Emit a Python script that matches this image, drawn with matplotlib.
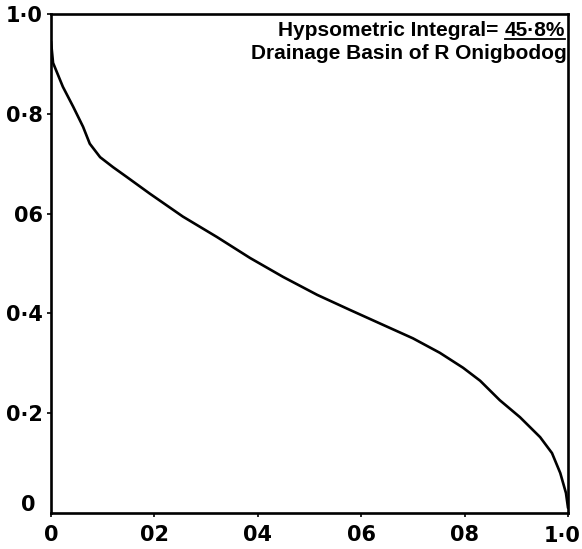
import matplotlib
matplotlib.use('Agg')
import matplotlib.pyplot as plt
import numpy as np

# hypsometric curve (relative area a/A, relative height h/H)
rel_area = [0.0, 0.004, 0.023, 0.043, 0.062, 0.075, 0.095, 0.120, 0.147, 0.191,
            0.255, 0.321, 0.385, 0.449, 0.515, 0.578, 0.640, 0.700, 0.752,
            0.797, 0.830, 0.868, 0.907, 0.946, 0.969, 0.985, 0.996, 1.0]
rel_height = [0.945, 0.902, 0.854, 0.814, 0.774, 0.740, 0.713, 0.693, 0.673, 0.640,
              0.594, 0.553, 0.511, 0.473, 0.437, 0.407, 0.378, 0.350, 0.321,
              0.291, 0.265, 0.226, 0.192, 0.152, 0.120, 0.080, 0.040, 0.010]

xticks = [0, 0.2, 0.4, 0.6, 0.8, 1.0]
xticklabels = ['0', '02', '04', '06', '08', '']
yticks = [0.2, 0.4, 0.6, 0.8, 1.0]
yticklabels = ['0·2', '0·4', '06', '0·8', '1·0']

fig = plt.figure(figsize=(5.82, 5.49), dpi=100)
ax = fig.add_axes([0.0876, 0.0656, 0.8884, 0.909])

ax.plot(rel_area, rel_height, color='black', lw=1.9,
        solid_capstyle='round', solid_joinstyle='round')

ax.set_xlim(0, 1)
ax.set_ylim(0, 1)
for s in ax.spines.values():
    s.set_linewidth(1.9)

tickfont = dict(fontsize=15, fontweight='bold')
ax.set_xticks(xticks)
ax.set_xticklabels(xticklabels, **tickfont)
ax.set_yticks(yticks)
ax.set_yticklabels(yticklabels, **tickfont)
ax.tick_params(direction='out', length=3, width=1.2, pad=3)
ax.tick_params(axis='x', pad=6)
# the lone "0" at the origin of the height axis
ax.text(-0.03, 0.015, '0', ha='right', va='center',
        transform=ax.transAxes, **tickfont)
# last x label sits tight against the right edge
ax.text(1.024, -0.026, '1·0', ha='right', va='top',
        transform=ax.transAxes, **tickfont)

fnt = dict(family='Liberation Sans', fontweight='bold', fontsize=15)
t2 = ax.text(0.995, 0.967, '45·8%', ha='right', va='center',
             transform=ax.transAxes, **fnt)
ax.text(0.997, 0.921, 'Drainage Basin of R Onigbodog', ha='right', va='center',
        transform=ax.transAxes, **fnt)

fig.canvas.draw()
bb = t2.get_window_extent().transformed(ax.transAxes.inverted())
ax.plot([bb.x0, bb.x1], [bb.y0 + 0.002, bb.y0 + 0.002], color='black', lw=1.3,
        transform=ax.transAxes, clip_on=False)
ax.text(bb.x0 - 0.012, 0.967, 'Hypsometric Integral=', ha='right', va='center',
        transform=ax.transAxes, **fnt)

plt.savefig('out.png', dpi=100)
